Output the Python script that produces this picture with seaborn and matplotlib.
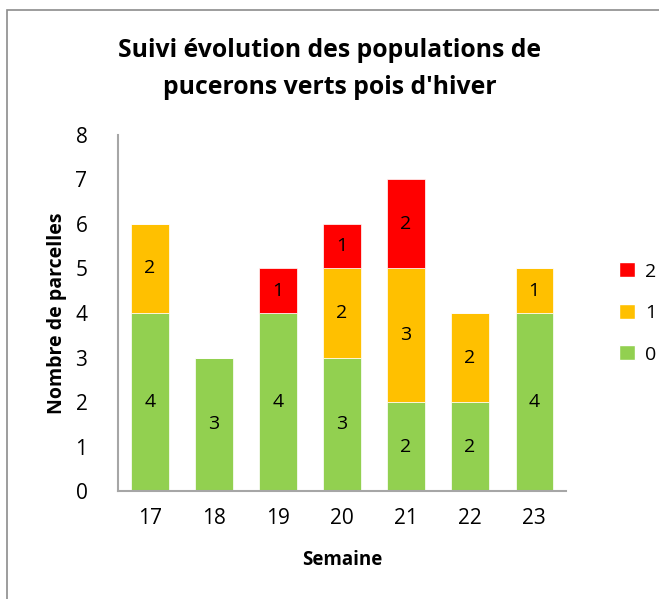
import matplotlib
matplotlib.use("Agg")
import matplotlib.pyplot as plt
from matplotlib.patches import Rectangle, Patch
import seaborn as sns
import numpy as np

weeks = ["17", "18", "19", "20", "21", "22", "23"]
level_0 = [4, 3, 4, 3, 2, 2, 4]
level_1 = [2, 0, 0, 2, 3, 2, 1]
level_2 = [0, 0, 1, 1, 2, 0, 0]

levels = ["0", "1", "2"]
colors = {"0": "#92D050", "1": "#FFC000", "2": "#FF0000"}

sns.set_style("white")
plt.rcParams["font.family"] = ["Open Sans", "DejaVu Sans"]
plt.rcParams["text.color"] = "black"
plt.rcParams["axes.labelcolor"] = "black"
plt.rcParams["xtick.color"] = "black"
plt.rcParams["ytick.color"] = "black"

fig = plt.figure(figsize=(6.59, 5.99), dpi=100)
ax = fig.add_axes([0.179, 0.180, 0.68, 0.595])

# gray frame of the chart area (cropped on the right and bottom)
fig.patches.append(Rectangle((7 / 659, -0.1), 1.2, 1 - 10 / 599 + 0.1,
                             transform=fig.transFigure, fill=False,
                             edgecolor="#8C8C8C", linewidth=1.2))

bottom = np.zeros(len(weeks))
for lvl, vals in zip(levels, [level_0, level_1, level_2]):
    vals = np.array(vals, dtype=float)
    sns.barplot(x=weeks, y=vals, bottom=bottom, color=colors[lvl],
                width=0.58, saturation=1, edgecolor="white", linewidth=0.5,
                ax=ax)
    for i, v in enumerate(vals):
        if v > 0:
            ax.text(i, bottom[i] + v / 2, f"{int(v)}", ha="center", va="center",
                    fontsize=14)
    bottom += vals

ax.set_ylim(0, 8)
ax.set_xlim(-0.5, len(weeks) - 0.5)
ax.set_yticks(range(0, 9))
ax.tick_params(axis="both", labelsize=15, length=0)
ax.tick_params(axis="x", pad=12)
ax.tick_params(axis="y", pad=22)
for s in ["top", "right"]:
    ax.spines[s].set_visible(False)
for s in ["left", "bottom"]:
    ax.spines[s].set_color("#A6A6A6")
    ax.spines[s].set_linewidth(1.5)

ax.set_xlabel("Semaine", fontsize=13.5, fontweight="bold", labelpad=15)
ax.set_ylabel("Nombre de parcelles", fontsize=14, fontweight="bold", labelpad=6)

fig.text(0.5, 0.885, "Suivi évolution des populations de\npucerons verts pois d'hiver",
         ha="center", va="center", fontsize=17.8, fontweight="bold", linespacing=1.65)

handles = [Patch(facecolor=colors[l], label=l) for l in reversed(levels)]
ax.legend(handles=handles, loc="center left", bbox_to_anchor=(1.08, 0.5),
          frameon=False, fontsize=14, labelspacing=1.2, handlelength=0.8,
          handleheight=0.8, handletextpad=0.5)

fig.savefig("out.png", dpi=100)
